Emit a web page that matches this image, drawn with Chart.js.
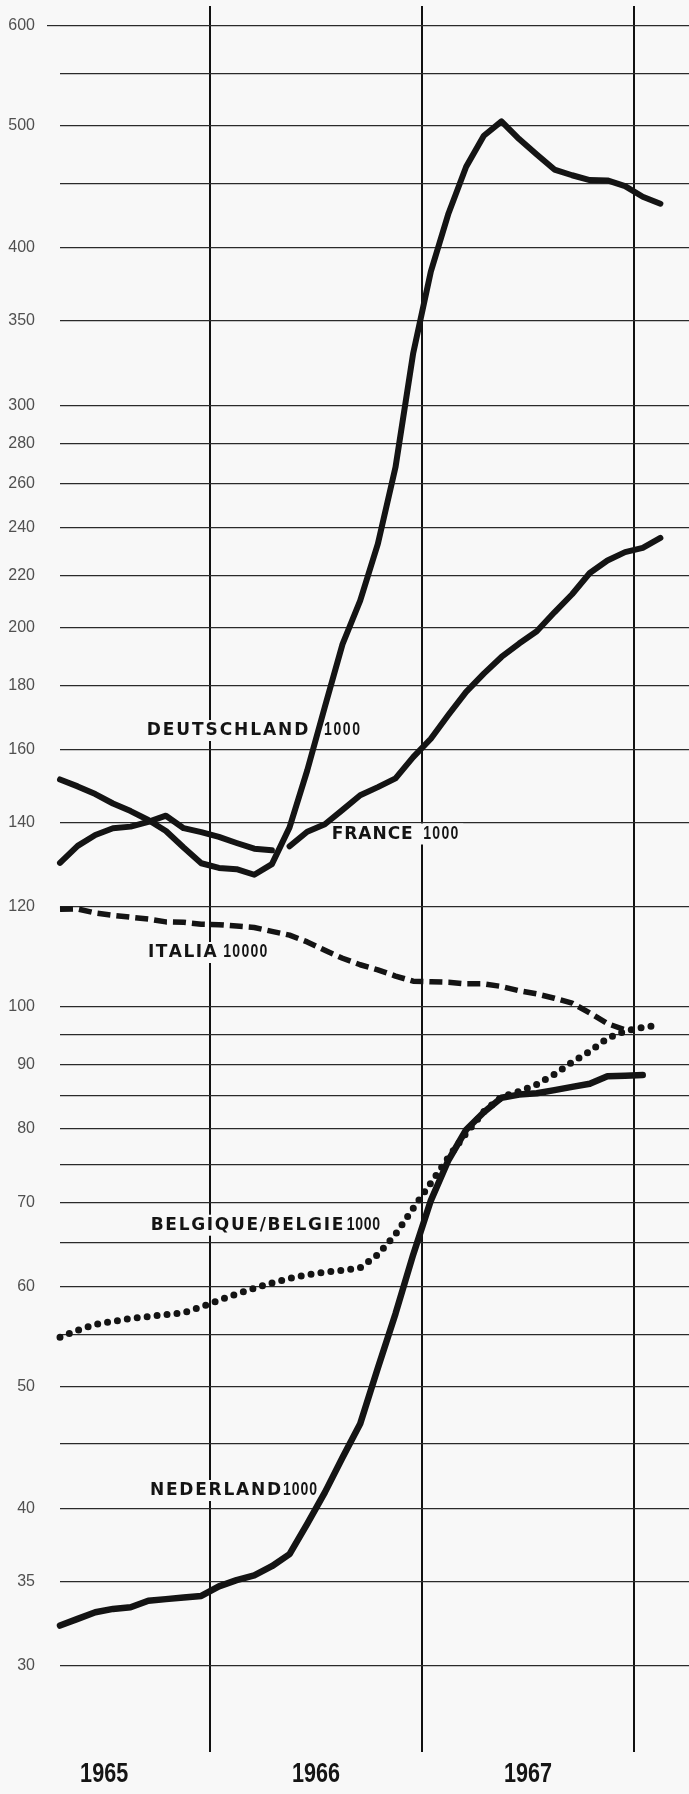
<!DOCTYPE html>
<html><head><meta charset="utf-8">
<script src="https://cdn.jsdelivr.net/npm/chart.js@4/dist/chart.umd.min.js"></script>
<style>html,body{margin:0;padding:0;background:#f8f8f8;}canvas{display:block}</style>
</head><body>
<canvas id="c" width="689" height="1794"></canvas>
<script>
// ---- data (monthly) ----
const months = ['1965-04','1965-05','1965-06','1965-07','1965-08','1965-09','1965-10','1965-11','1965-12',
  '1966-01','1966-02','1966-03','1966-04','1966-05','1966-06','1966-07','1966-08','1966-09','1966-10','1966-11','1966-12',
  '1967-01','1967-02','1967-03','1967-04','1967-05','1967-06','1967-07','1967-08','1967-09','1967-10','1967-11','1967-12',
  '1968-01','1968-02'];
const deutschland = [151.5,149.6,147.5,145,143,140.7,137.9,133.8,130,128.9,128.6,127.3,129.8,138.8,154,173,194,210,233,268,330,383,426,464,491,504,488,474.5,461.6,456.8,452.8,452.5,447.8,439.2,433.7];
const france = [130.1,134.2,136.9,138.6,139,140.2,141.8,138.6,137.6,136.4,134.9,133.5,133.1,134.1,137.7,139.6,143.3,147.2,149.4,151.8,157.8,163.2,170.5,177.8,183.8,189.5,194.2,198.6,205.6,212.5,220.9,226,229.5,231.3,235.5];
const italia = [119.5,119.6,118.7,118.2,117.8,117.4,116.8,116.7,116.3,116.2,115.9,115.6,114.8,114,112.6,110.9,109.3,108,107,105.8,104.8,104.7,104.6,104.3,104.3,103.8,103,102.4,101.6,100.7,98.9,97,95.9,null,null];
const belgique = [54.7,55.4,56,56.3,56.6,56.8,57,57.2,57.8,58.5,59.2,59.8,60.4,60.9,61.3,61.6,61.8,62.1,63.6,66,69.2,72.5,76,79.4,82.6,84.8,85.7,86.8,88.4,90.4,92.2,94.4,95.7,96.3,96.8];
const nederland = [32.3,32.7,33.1,33.3,33.4,33.8,33.9,34,34.1,34.7,35.1,35.4,36,36.8,38.9,41.2,43.9,46.7,51.7,57.1,63.6,70.2,75.6,79.9,82.5,84.7,85.2,85.4,85.9,86.4,86.9,88.1,88.2,88.3,null];
const yearLabels = ['1965','1966','1967'];
const gridValues = [600,550,500,450,400,350,300,280,260,240,220,200,180,160,140,120,100,95,90,85,80,75,70,65,60,55,50,45,40,35,30];
const labeledValues = [600,500,400,350,300,280,260,240,220,200,180,160,140,120,100,90,80,70,60,50,40,35,30];
const seriesNames = ['DEUTSCHLAND','FRANCE','ITALIA','BELGIQUE/BELGIE','NEDERLAND'];
const seriesUnits = ['1000','1000','10000','1000','1000'];

// ---- helpers ----
const monthPos = s => { const [y,m] = s.split('-').map(Number); return (y-1965)*12 + (m-1) + 0.5; };
const toXY = arr => months.map((m,i) => ({x: monthPos(m), y: arr[i]}));
const yearMid = y => (Number(y)-1965)*12 + 6;
const PAPER = '#f8f8f8';
const INK = '#141414';
const franceGapAfter = 12; // visual break where the German line crosses

// label layout (text annotations)
const labelLayout = [
  {wx:146.7, ww:161.6, nx:324,   nw:36,   yc:729},
  {wx:331.7, ww:81,    nx:423.3, nw:35,   yc:832.5},
  {wx:148,   ww:68.7,  nx:223.3, nw:44,   yc:951},
  {wx:150.7, ww:192.6, nx:346.7, nw:33.3, yc:1223.7},
  {wx:150,   ww:131,   nx:283,   nw:34,   yc:1489}
];

function drawSpaced(ctx, text, x, y, width, sx){
  const chars = [...text];
  const ws = chars.map(c => ctx.measureText(c).width * sx);
  const total = ws.reduce((a,b)=>a+b,0);
  const gap = chars.length > 1 ? (width-total)/(chars.length-1) : 0;
  let cx = x;
  chars.forEach((c,i) => {
    ctx.save(); ctx.translate(cx, y); ctx.scale(sx, 1); ctx.fillText(c, 0, 0); ctx.restore();
    cx += ws[i] + gap;
  });
}

const bgPlugin = {
  id:'paper',
  beforeDraw(chart){ const c = chart.ctx; c.save(); c.fillStyle = PAPER; c.fillRect(0,0,chart.width,chart.height); c.restore(); }
};
const labelPlugin = {
  id:'seriesLabels',
  beforeDatasetsDraw(chart){
    const c = chart.ctx; c.save();
    labelLayout.forEach((L,i) => {
      c.fillStyle = PAPER;
      c.fillRect(L.wx-5, L.yc-9, (L.nx+L.nw) - L.wx + 10, 21);
      c.fillStyle = INK; c.textAlign = 'left'; c.textBaseline = 'alphabetic';
      c.font = 'bold 17px "DejaVu Sans", sans-serif';
      drawSpaced(c, seriesNames[i], L.wx, L.yc+6, L.ww, 1);
      c.font = 'bold 18px "Liberation Sans", Arial, sans-serif';
      drawSpaced(c, seriesUnits[i], L.nx, L.yc+6.3, L.nw, 0.78);
    });
    c.restore();
  },
  afterDraw(chart){
    // condensed bold year labels centred in each year
    const c = chart.ctx, xs = chart.scales.x;
    c.save();
    c.fillStyle = '#151515'; c.textAlign = 'center'; c.textBaseline = 'alphabetic';
    c.font = 'bold 27px "Liberation Sans", Arial, sans-serif';
    yearLabels.forEach(y => {
      const px = xs.getPixelForValue(yearMid(y));
      c.save(); c.translate(px, 1782); c.scale(0.8, 1); c.fillText(y, 0, 0); c.restore();
    });
    c.restore();
  }
};

const solid = {borderColor:INK, borderWidth:6, borderJoinStyle:'round', borderCapStyle:'round', pointRadius:0, clip:false, tension:0};

new Chart(document.getElementById('c'), {
  type:'line',
  data:{ datasets:[
    {...solid, label:'Deutschland', data: toXY(deutschland)},
    {...solid, label:'France', data: toXY(france),
      segment:{ borderColor: ctx => ctx.p0DataIndex === franceGapAfter ? 'rgba(0,0,0,0)' : undefined }},
    {...solid, label:'Italia', data: toXY(italia), borderWidth:5.5, borderDash:[13,6], borderCapStyle:'butt'},
    {...solid, label:'Belgique/Belgie', data: toXY(belgique), borderWidth:7, borderDash:[0,10], borderCapStyle:'round'},
    {...solid, label:'Nederland', data: toXY(nederland), borderWidth:6.5}
  ]},
  options:{
    responsive:false, animation:false, devicePixelRatio:1,
    layout:{padding:{top:6,left:0,right:0,bottom:0}},
    plugins:{legend:{display:false}, tooltip:{enabled:false}},
    scales:{
      x:{
        type:'linear', min:3.5, max:39.12,
        afterBuildTicks: s => { s.ticks = [12,24,36].map(v => ({value:v})); },
        afterFit: s => { s.height = 42; s.paddingLeft = 0; s.paddingRight = 0; },
        border:{display:false},
        grid:{drawTicks:false, lineWidth:2, color:'#111'},
        ticks:{autoSkip:false, maxRotation:0, padding:0, callback: () => ''}
      },
      y:{
        type:'logarithmic', min:25.64, max:622.3,
        afterBuildTicks: s => { s.ticks = [25.64, ...gridValues, 622.3].map(v => ({value:v})); },
        afterFit: s => { s.width = 60; s.paddingTop = 0; s.paddingBottom = 0; },
        border:{display:false},
        grid:{lineWidth:1.2, drawTicks:true, tickLength:13, tickWidth:1.2,
          color: c => (c.tick && gridValues.includes(c.tick.value)) ? '#2a2a2a' : 'rgba(0,0,0,0)',
          tickColor: c => (c.tick && c.tick.value === 600) ? '#2a2a2a' : 'rgba(0,0,0,0)'},
        ticks:{autoSkip:false, padding:12, color:'#505050',
          font:{family:'"Liberation Sans", Arial, sans-serif', size:16},
          callback: v => gridValues.includes(v) ? (labeledValues.includes(v) ? String(v) : '') : null}
      }
    }
  },
  plugins:[bgPlugin, labelPlugin]
});
</script>
</body></html>
